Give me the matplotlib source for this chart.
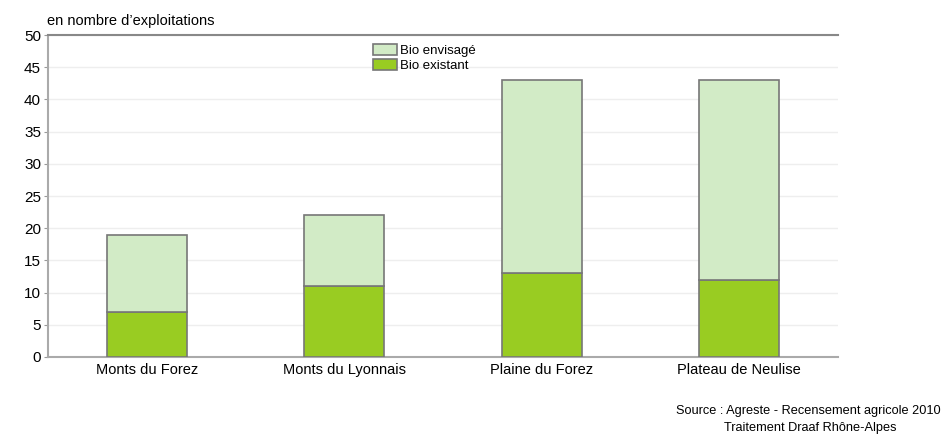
import matplotlib.pyplot as plt
import numpy as np

plt.rcParams['font.family'] = ['Liberation Sans', 'DejaVu Sans']

regions = ['Monts du Forez', 'Monts du Lyonnais', 'Plaine du Forez', 'Plateau de Neulise']
bio_existant = [7, 11, 13, 12]
bio_envisage = [12, 11, 30, 31]

fig = plt.figure(figsize=(9.44, 4.36), dpi=100)
ax = fig.add_axes([0.0508, 0.1812, 0.837, 0.7385])

x_pos = np.arange(len(regions))
width = 0.405

ax.bar(x_pos, bio_existant, width, color='#99cc22', edgecolor='#777777',
       linewidth=1.2, label='Bio existant', zorder=3)
ax.bar(x_pos, bio_envisage, width, bottom=bio_existant, color='#d2ebc6',
       edgecolor='#777777', linewidth=1.2, label='Bio envisagé', zorder=3)

ax.set_xlim(-0.5, 3.5)
ax.set_ylim(0, 50)
ax.set_yticks(range(0, 51, 5))
ax.set_xticks(x_pos)
ax.set_xticklabels(regions, fontsize=10.5)
ax.tick_params(axis='y', labelsize=11, length=3, color='#999999', pad=2)
ax.tick_params(axis='x', length=0, pad=4)

ax.grid(axis='y', color='#eeeeee', linewidth=1, zorder=0)
for side in ['left', 'bottom']:
    ax.spines[side].set_color('#aaaaaa')
    ax.spines[side].set_linewidth(1.5)
ax.spines['top'].set_color('#888888')
ax.spines['top'].set_linewidth(1.5)
ax.spines['right'].set_visible(False)

handles, labels = ax.get_legend_handles_labels()
leg = ax.legend(handles[::-1], labels[::-1], loc='upper left',
                bbox_to_anchor=(0.4, 1.0), frameon=False, fontsize=9.5,
                handlelength=1.8, handleheight=0.9, handletextpad=0.2,
                labelspacing=0.15, borderaxespad=0.3)

fig.text(0.05, 0.935, 'en nombre d\u2019exploitations', fontsize=10.5, ha='left', va='bottom')
fig.text(0.996, 0.057, 'Source : Agreste - Recensement agricole 2010', fontsize=9.2,
         ha='right', va='center')
fig.text(0.858, 0.018, 'Traitement Draaf Rh\u00f4ne-Alpes', fontsize=9.2,
         ha='center', va='center')

plt.savefig('out.png', dpi=100)
